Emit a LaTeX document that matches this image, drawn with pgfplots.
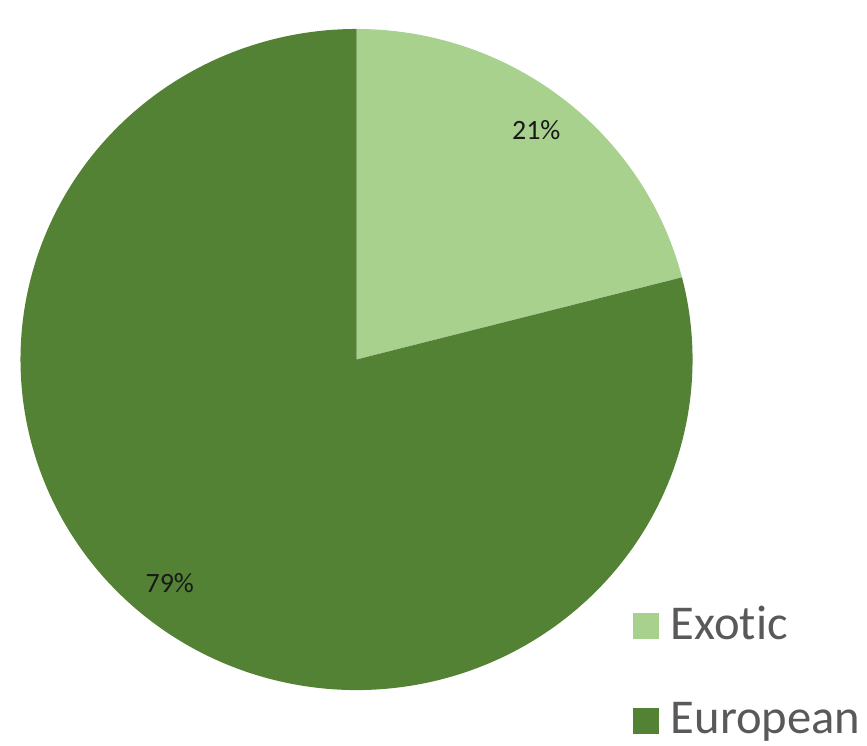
\documentclass[border=0pt]{standalone}
\usepackage{pgfplots}
\pgfplotsset{compat=1.18}
\usepackage{fontspec}
\setmainfont[Ligatures={NoCommon}]{Carlito}
\definecolor{exotic}{HTML}{A9D18E}
\definecolor{european}{HTML}{548235}
\definecolor{legtext}{HTML}{595959}
\def\exoticpct{21}
\def\europeanpct{79}
\begin{document}
\begin{tikzpicture}
\begin{axis}[
  scale only axis, width=260.1pt, height=221.1pt,
  xmin=0, xmax=867, ymin=0, ymax=737,
  hide axis, clip=false,
  legend style={at={(axis cs:633,137)}, anchor=north west, draw=none, fill=none,
    font=\fontsize{14.6}{17}\selectfont\color{legtext}, inner sep=0pt,
    row sep=13.3pt, cells={anchor=west},
    /tikz/every odd column/.style={column sep=1.6pt}},
  legend cell align=left,
  legend image code/.code={\fill[#1] (0pt,-3.9pt) rectangle (7.8pt,3.9pt);},
]
\addplot[draw=none, forget plot] coordinates {(0,0) (867,737)};
\addplot[fill=exotic, draw=none, domain={90-3.6*\exoticpct}:90, samples=120]
  ({357+336.5*cos(x)}, {377+331*sin(x)}) -- (axis cs:357,377) -- cycle;
\addlegendentry{Exotic}
\addplot[fill=european, draw=none, domain={90-360}:{90-3.6*\exoticpct}, samples=400]
  ({357+336.5*cos(x)}, {377+331*sin(x)}) -- (axis cs:357,377) -- cycle;
\addlegendentry{European}
\node[font=\fontsize{8.4}{10}\selectfont, text=black!90] at (axis cs:537,607) {21\%};
\node[font=\fontsize{8.4}{10}\selectfont, text=black!90] at (axis cs:170,153) {79\%};
\end{axis}
\end{tikzpicture}
\end{document}
